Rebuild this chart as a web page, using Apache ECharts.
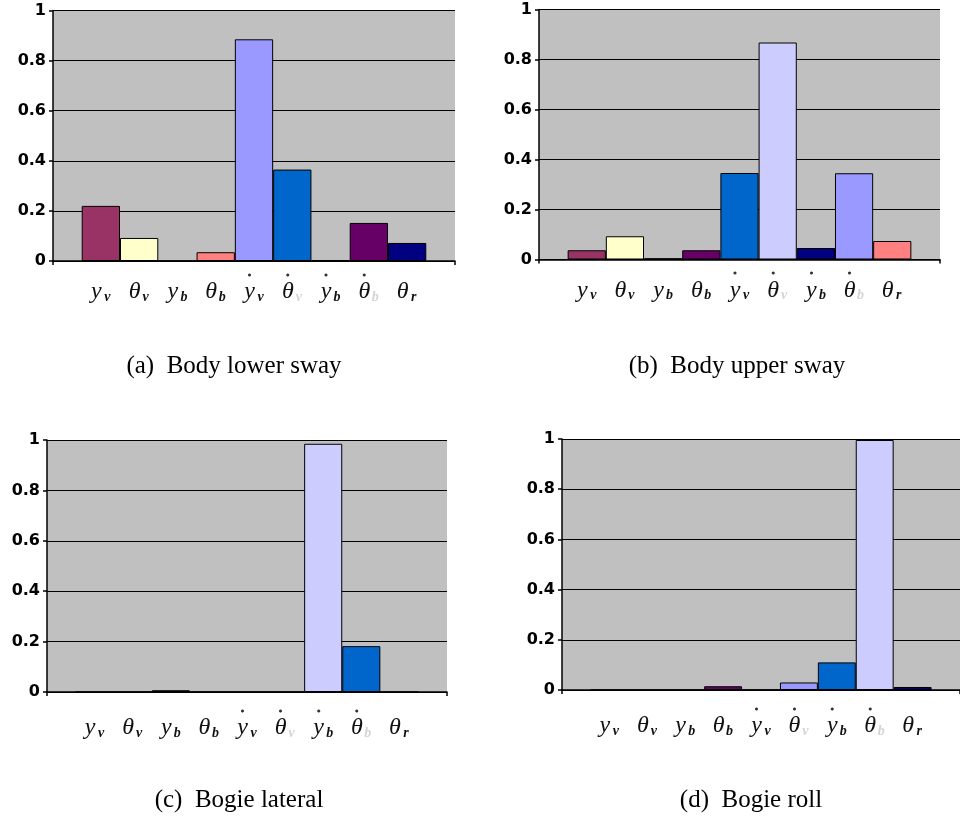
<!DOCTYPE html>
<html>
<head>
<meta charset="utf-8">
<script src="https://cdn.jsdelivr.net/npm/echarts@6/dist/echarts.min.js"></script>
<style>
  html, body { margin: 0; padding: 0; background: #fff; }
  #chart { width: 960px; height: 821px; }
</style>
</head>
<body>
<div id="chart"></div>
<script>
// State variables shown along each x axis: symbol, subscript, time derivative (dot)
const symbols    = ['y', 'θ', 'y', 'θ', 'y', 'θ', 'y', 'θ', 'θ'];
const subscripts = ['v', 'v', 'b', 'b', 'v', 'v', 'b', 'b', 'r'];
const dotted     = [false, false, false, false, true, true, true, true, false];
const faintSub   = [false, false, false, false, false, true, false, true, false];

// Y axis ticks
const yTicks = [0, 0.2, 0.4, 0.6, 0.8, 1];

// Panel captions
const captions = ['(a)  Body lower sway', '(b)  Body upper sway', '(c)  Bogie lateral', '(d)  Bogie roll'];

// Normalised participation of each state in the mode
const bodyLowerSway = [0.22, 0.092, 0, 0.035, 0.885, 0.365, 0.004, 0.152, 0.072];
const bodyUpperSway = [0.037, 0.093, 0.005, 0.037, 0.346, 0.868, 0.046, 0.345, 0.074];
const bogieLateral  = [0, 0, 0.007, 0, 0, 0, 0.985, 0.182, 0];
const bogieRoll     = [0, 0, 0, 0.015, 0, 0.03, 0.11, 0.996, 0.012];

// Bar fill colours per panel
const coloursA = ['#993366', '#FFFFCC', '#CCFFFF', '#FF8080', '#9999FF', '#0066CC', '#333366', '#660066', '#000080'];
const coloursB = ['#993366', '#FFFFCC', '#333333', '#660066', '#0066CC', '#CCCCFF', '#000080', '#9999FF', '#FF8080'];
const coloursC = ['#993366', '#FFFFCC', '#333333', '#FF8080', '#9999FF', '#660066', '#CCCCFF', '#0066CC', '#000080'];
const coloursD = ['#993366', '#FFFFCC', '#CCFFFF', '#660066', '#FF8080', '#9999FF', '#0066CC', '#CCCCFF', '#000080'];

const panels = [
  { values: bodyLowerSway, colours: coloursA, grid: { left: 53, top: 10.5, width: 402, height: 250.5 }, labelMargin: 10, caption: { x: 234, y: 366 } },
  { values: bodyUpperSway, colours: coloursB, grid: { left: 539, top: 9.5, width: 401, height: 250 }, labelMargin: 10, caption: { x: 737, y: 366 } },
  { values: bogieLateral,  colours: coloursC, grid: { left: 47, top: 440, width: 400, height: 252 }, labelMargin: 15, caption: { x: 239, y: 800 } },
  { values: bogieRoll,     colours: coloursD, grid: { left: 562, top: 439, width: 403, height: 251 }, labelMargin: 15, caption: { x: 751, y: 800 } }
];

const serif = 'Liberation Serif';
const labelRich = {
  d:  { fontFamily: 'DejaVu Sans', fontSize: 4, color: '#333', width: 13, align: 'center', lineHeight: 7 },
  ds: { fontFamily: serif, fontSize: 14, color: 'transparent', width: 9, align: 'left', lineHeight: 7 },
  m:  { fontFamily: serif, fontStyle: 'italic', fontSize: 24, color: '#111', width: 13, align: 'center', lineHeight: 26, verticalAlign: 'bottom' },
  s:  { fontFamily: serif, fontStyle: 'italic', fontWeight: 'bold', fontSize: 14, color: '#111', width: 9, align: 'left', lineHeight: 20, verticalAlign: 'bottom' },
  sf: { fontFamily: serif, fontStyle: 'italic', fontWeight: 'bold', fontSize: 14, color: '#d4d4d4', width: 9, align: 'left', lineHeight: 20, verticalAlign: 'bottom' }
};

const positions = symbols.map((_, i) => i);

function stateLabel(v) {
  const i = Math.round(v);
  const top = '{d|' + (dotted[i] ? '●' : ' ') + '}{ds|' + subscripts[i] + '}';
  const main = '{m|' + symbols[i] + '}{' + (faintSub[i] ? 'sf' : 's') + '|' + subscripts[i] + '}';
  return top + '\n' + main;
}

const chart = echarts.init(document.getElementById('chart'));

const grids = [], xAxes = [], yAxes = [], series = [], graphics = [];
panels.forEach((p, k) => {
  grids.push(Object.assign({ show: true, backgroundColor: '#C0C0C0', borderWidth: 0 }, p.grid));
  xAxes.push({
    type: 'value', gridIndex: k, min: -1.25, max: 9.25,
    axisLine: { show: true, onZero: false, lineStyle: { color: '#000', width: 1.5 } },
    axisTick: { show: true, customValues: [-1.25, 9.25], length: 4, lineStyle: { color: '#000', width: 1.5 } },
    splitLine: { show: false },
    axisLabel: { show: true, customValues: positions, margin: p.labelMargin, formatter: stateLabel, rich: labelRich }
  });
  yAxes.push({
    type: 'value', gridIndex: k, min: yTicks[0], max: yTicks[yTicks.length - 1], interval: yTicks[1] - yTicks[0],
    axisLine: { show: true, onZero: false, lineStyle: { color: '#000', width: 1.5 } },
    axisTick: { show: true, length: 4, lineStyle: { color: '#000', width: 1.5 } },
    splitLine: { show: true, lineStyle: { color: '#000', width: 1 } },
    axisLabel: { color: '#000', fontFamily: 'DejaVu Sans', fontWeight: 'bold', fontSize: 16, margin: 7 }
  });
  series.push({
    type: 'bar', xAxisIndex: k, yAxisIndex: k,
    barCategoryGap: '0%', barGap: '0%',
    itemStyle: { borderColor: '#000', borderWidth: 1 },
    data: p.values.map((v, i) => ({ value: [positions[i], v], itemStyle: { color: p.colours[i] } })),
    animation: false
  });
  graphics.push({
    type: 'text', x: p.caption.x, y: p.caption.y,
    style: { text: captions[k], fill: '#000', font: '25px "Liberation Serif"', align: 'center', verticalAlign: 'middle' }
  });
});

chart.setOption({
  animation: false,
  grid: grids,
  xAxis: xAxes,
  yAxis: yAxes,
  series: series,
  graphic: graphics
});
</script>
</body>
</html>
